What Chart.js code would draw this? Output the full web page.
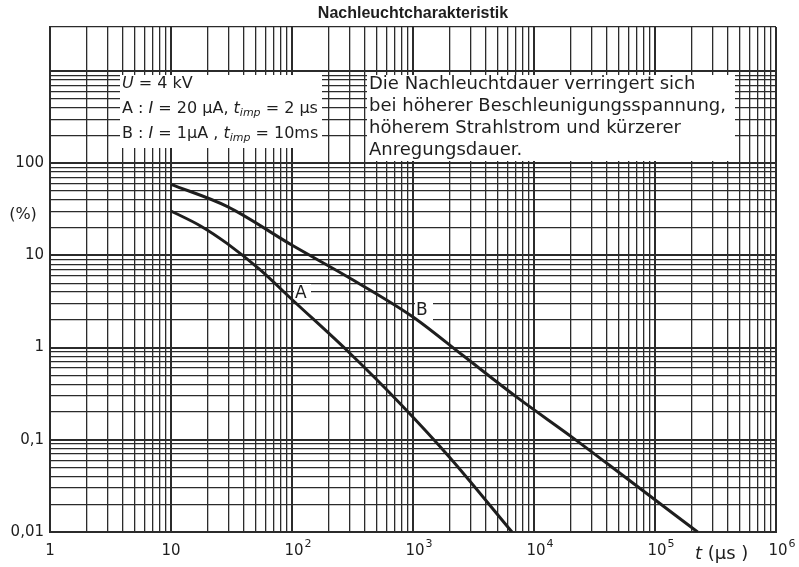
<!DOCTYPE html>
<html>
<head>
<meta charset="utf-8">
<script src="https://cdn.jsdelivr.net/npm/chart.js@4.4.1/dist/chart.umd.min.js"></script>
<style>
  html, body { margin: 0; padding: 0; background: #fff; }
  #wrap { width: 799px; height: 567px; }
</style>
</head>
<body>
<div id="wrap"><canvas id="c" width="799" height="567"></canvas></div>
<script>
// Afterglow decay curves: time in microseconds, remaining luminance in percent
const timeA    = [10, 17.4, 29, 54.4, 102, 285, 781, 2020, 6580];
const percentA = [30.3, 21, 13.5, 7.0, 3.24, 0.93, 0.248, 0.064, 0.01];

const timeB    = [10, 29, 102, 285, 1000, 2590, 7200, 21000, 58600, 225000];
const percentB = [59, 34, 12.7, 5.9, 2.15, 0.82, 0.29, 0.105, 0.038, 0.01];

// Axis ranges and labelled decades
const xRange = [1, 1e6];
const yRange = [0.01, 3000];
const xMajorTicks = [1, 10, 100, 1e3, 1e4, 1e5, 1e6];
const xTickBase = ['1', '10', '10', '10', '10', '10', '10'];
const xTickExp  = ['', '', '2', '3', '4', '5', '6'];
const yMajorTicks = [0.01, 0.1, 1, 10, 100];
const yTickLabels = ['0,01', '0,1', '1', '10', '100'];

const INK = '#1e1e1e';
const GRID = '#2b2b2b';

// every 1..9 x 10^n step inside a range, for the log-paper grid
function logSteps(min, max) {
  const out = [];
  for (let e = Math.floor(Math.log10(min)); e <= Math.ceil(Math.log10(max)); e++) {
    for (let m = 1; m <= 9; m++) {
      const v = parseFloat((m * Math.pow(10, e)).toPrecision(6));
      if (v >= min * 0.9999 && v <= max * 1.0001) out.push(v);
    }
  }
  return out;
}
function sameValue(a, b) { return Math.abs(Math.log10(a) - Math.log10(b)) < 1e-6; }
function labelFor(value, majors, labels) {
  const i = majors.findIndex(m => sameValue(m, value));
  return i >= 0 ? labels[i] : '';
}
function isDecade(v) { return Math.abs(Math.log10(v) - Math.round(Math.log10(v))) < 1e-6; }

// draws a row of text pieces with their own fonts / vertical offsets
function drawRuns(ctx, x, y, runs) {
  let cx = x;
  runs.forEach(r => {
    ctx.font = r.font;
    ctx.fillText(r.text, cx, y + (r.dy || 0));
    cx += ctx.measureText(r.text).width;
  });
}

const F = 'DejaVu Sans';
const txt = (s) => `${s}px "${F}"`;
const ital = (s) => `italic ${s}px "${F}"`;

const overlay = {
  id: 'overlay',
  beforeDatasetsDraw(chart) {
    const ctx = chart.ctx;
    ctx.save();
    ctx.fillStyle = '#fff';
    // legend box, note box, curve letters
    ctx.fillRect(120, 75, 202, 73);
    ctx.fillRect(367, 75, 368, 86);
    ctx.fillRect(294, 284, 17, 19);
    ctx.fillRect(415, 300, 18, 22);
    ctx.restore();
  },
  afterDraw(chart) {
    const ctx = chart.ctx;
    const xs = chart.scales.x;
    ctx.save();
    ctx.fillStyle = INK;
    ctx.textBaseline = 'middle';
    ctx.textAlign = 'center';
    ctx.font = 'bold 16px "Liberation Sans"';
    ctx.fillText('Nachleuchtcharakteristik', 413, 14);

    ctx.font = txt(16);
    ctx.fillText('(%)', 23, 215);

    // decade labels of the time axis, with raised exponents
    xMajorTicks.forEach((v, i) => {
      const px = xs.getPixelForValue(v);
      ctx.textAlign = 'center';
      ctx.font = txt(15);
      const shift = xTickExp[i] ? 2 : 0;
      ctx.fillText(xTickBase[i], px + shift, 551);
      if (xTickExp[i]) {
        const w = ctx.measureText(xTickBase[i]).width;
        ctx.textAlign = 'left';
        ctx.font = txt(11);
        ctx.fillText(xTickExp[i], px + shift + w / 2 + 1, 544);
      }
    });

    ctx.textAlign = 'left';
    const s = 16;
    drawRuns(ctx, 122, 84, [
      { text: 'U', font: ital(s) }, { text: ' = 4 kV', font: txt(s) }
    ]);
    drawRuns(ctx, 122, 109, [
      { text: 'A : ', font: txt(s) }, { text: 'I', font: ital(s) },
      { text: ' = 20 µA, ', font: txt(s) }, { text: 't', font: ital(s) },
      { text: 'imp', font: ital(11), dy: 4 }, { text: ' = 2 µs', font: txt(s) }
    ]);
    drawRuns(ctx, 122, 134, [
      { text: 'B : ', font: txt(s) }, { text: 'I', font: ital(s) },
      { text: ' = 1µA , ', font: txt(s) }, { text: 't', font: ital(s) },
      { text: 'imp', font: ital(11), dy: 4 }, { text: ' = 10ms', font: txt(s) }
    ]);

    ctx.font = txt(18);
    const note = ['Die Nachleuchtdauer verringert sich',
                  'bei höherer Beschleunigungsspannung,',
                  'höherem Strahlstrom und kürzerer',
                  'Anregungsdauer.'];
    note.forEach((line, i) => ctx.fillText(line, 369, 84 + i * 22));

    ctx.font = txt(17);
    ctx.fillText('A', 295, 294);
    ctx.fillText('B', 416, 311);

    drawRuns(ctx, 695, 554, [
      { text: 't', font: ital(18) }, { text: ' (µs )', font: txt(18) }
    ]);
    ctx.restore();
  }
};

const gridStyle = (hidden) => ({
  drawTicks: false,
  color: (c) => (c.tick && hidden(c.tick.value)) ? 'rgba(0,0,0,0)' : GRID,
  lineWidth: (c) => (c.tick && isDecade(c.tick.value)) ? 2 : 1.3
});

new Chart(document.getElementById('c'), {
  type: 'line',
  data: {
    datasets: [
      { label: 'A', data: timeA.map((t, i) => ({ x: t, y: percentA[i] })) },
      { label: 'B', data: timeB.map((t, i) => ({ x: t, y: percentB[i] })) }
    ].map(d => Object.assign(d, {
      borderColor: INK, borderWidth: 3, pointRadius: 0,
      cubicInterpolationMode: 'monotone', fill: false
    }))
  },
  options: {
    responsive: false,
    animation: false,
    events: [],
    layout: { padding: { top: 27, right: 23, left: 0, bottom: 0 } },
    plugins: { legend: { display: false }, tooltip: { enabled: false }, title: { display: false } },
    scales: {
      x: {
        type: 'logarithmic',
        min: xRange[0], max: xRange[1],
        afterBuildTicks: (sc) => { sc.ticks = logSteps(xRange[0], xRange[1]).map(v => ({ value: v })); },
        afterFit: (sc) => { sc.height = 35; },
        grid: gridStyle(() => false),
        border: { display: true, color: GRID, width: 2 },
        ticks: { autoSkip: false, maxRotation: 0, display: false }
      },
      y: {
        type: 'logarithmic',
        min: yRange[0], max: yRange[1],
        afterBuildTicks: (sc) => { sc.ticks = logSteps(yRange[0], yRange[1]).map(v => ({ value: v })); },
        afterFit: (sc) => { sc.width = 50; },
        grid: gridStyle((v) => sameValue(v, 2000)),
        border: { display: true, color: GRID, width: 2 },
        ticks: {
          autoSkip: false, padding: 6, color: INK,
          font: { family: F, size: 15 },
          callback: (v) => labelFor(v, yMajorTicks, yTickLabels)
        }
      }
    }
  },
  plugins: [overlay]
});
</script>
</body>
</html>
